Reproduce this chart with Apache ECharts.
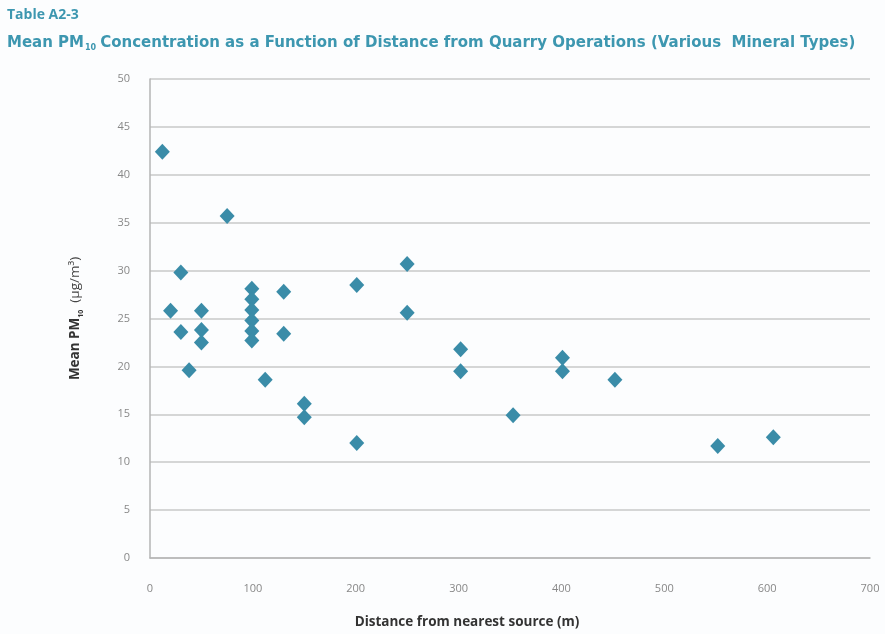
<!DOCTYPE html>
<html>
<head>
<meta charset="utf-8">
<script src="https://cdn.jsdelivr.net/npm/echarts@6/dist/echarts.min.js"></script>
<style>
html,body{margin:0;padding:0;background:#fcfdfe;}
#chart{width:885px;height:634px;}
</style>
</head>
<body>
<div id="chart"></div>
<script>
// Distance from nearest source (m)
const distances = [12, 75, 30, 20, 30, 38, 50, 50, 50,
  99, 99, 99, 99, 99, 99,
  112, 130, 130, 150, 150, 201, 201, 250, 250, 302, 302, 353, 401, 401, 452, 552, 606];
// Mean PM10 concentration (µg/m³)
const concentrations = [42.4, 35.7, 29.8, 25.8, 23.6, 19.6, 25.8, 23.8, 22.5,
  28.1, 27.0, 25.9, 24.8, 23.7, 22.7,
  18.6, 27.8, 23.4, 16.1, 14.7, 28.5, 12.0, 30.7, 25.6, 21.8, 19.5, 14.9, 20.9, 19.5, 18.6, 11.7, 12.6];
const xTicks = [0, 100, 200, 300, 400, 500, 600, 700];
const yTicks = [0, 5, 10, 15, 20, 25, 30, 35, 40, 45, 50];

const points = distances.map((d, i) => [d, concentrations[i]]);
const teal = '#3d97b0';
const font = '"Open Sans", "Noto Sans", sans-serif';
const wide = '"DejaVu Sans", sans-serif';

const chart = echarts.init(document.getElementById('chart'), null, {renderer: 'canvas'});
chart.setOption({
  backgroundColor: '#fcfdfe',
  animation: false,
  title: {
    left: 7,
    top: 3,
    padding: 0,
    text: '{h|Table A2-3}\n{b|Mean PM}{s|10}{b|Concentration as a Function of Distance from Quarry Operations (Various  Mineral Types)}',
    textStyle: {
      rich: {
        h: {fontFamily: font, fontWeight: 'bold', fontSize: 14, color: teal, lineHeight: 24},
        b: {fontFamily: wide, fontWeight: 'bold', fontSize: 15, color: teal, lineHeight: 32},
        s: {fontFamily: wide, fontWeight: 'bold', fontSize: 8, color: teal, padding: [9, 4, 0, 1]}
      }
    }
  },
  grid: {left: 150, right: 15, top: 79, bottom: 75, containLabel: false},
  xAxis: {
    type: 'value',
    min: 0, max: 700, interval: 100,
    name: 'Distance from nearest source (m)',
    nameLocation: 'middle',
    nameGap: 57,
    nameTextStyle: {fontFamily: font, fontWeight: 'bold', fontSize: 13.5, color: '#333', padding: [0, 86, 0, 0]},
    axisLine: {show: true, lineStyle: {color: '#b5b5b5', width: 1.5}},
    axisTick: {show: false},
    splitLine: {show: false},
    axisLabel: {
      margin: 25, fontFamily: font, fontSize: 11, color: '#888',
      formatter: v => xTicks.includes(v) ? String(v) : ''
    }
  },
  yAxis: {
    type: 'value',
    min: 0, max: 50, interval: 5,
    name: '{n|Mean PM}{s|10}{m|  (μg/m³)}',
    nameLocation: 'middle',
    nameGap: 66,
    nameRotate: 90,
    nameTextStyle: {
      rich: {
        n: {fontFamily: font, fontWeight: 'bold', fontSize: 13.5, color: '#333', lineHeight: 18},
        m: {fontFamily: font, fontSize: 13.5, color: '#444', lineHeight: 18},
        s: {fontFamily: font, fontWeight: 'bold', fontSize: 7, color: '#333', lineHeight: 18, verticalAlign: 'bottom'}
      }
    },
    axisLine: {show: true, lineStyle: {color: '#b5b5b5', width: 1.5}},
    axisTick: {show: false},
    splitLine: {show: true, lineStyle: {color: '#c9c9c9', width: 1.5}},
    axisLabel: {
      margin: 20, fontFamily: font, fontSize: 11, color: '#888',
      formatter: v => yTicks.includes(v) ? String(v) : ''
    }
  },
  series: [{
    type: 'scatter',
    data: points,
    symbol: 'diamond',
    symbolSize: [15, 16],
    itemStyle: {color: '#3a8ca8', opacity: 1}
  }]
});
</script>
</body>
</html>
